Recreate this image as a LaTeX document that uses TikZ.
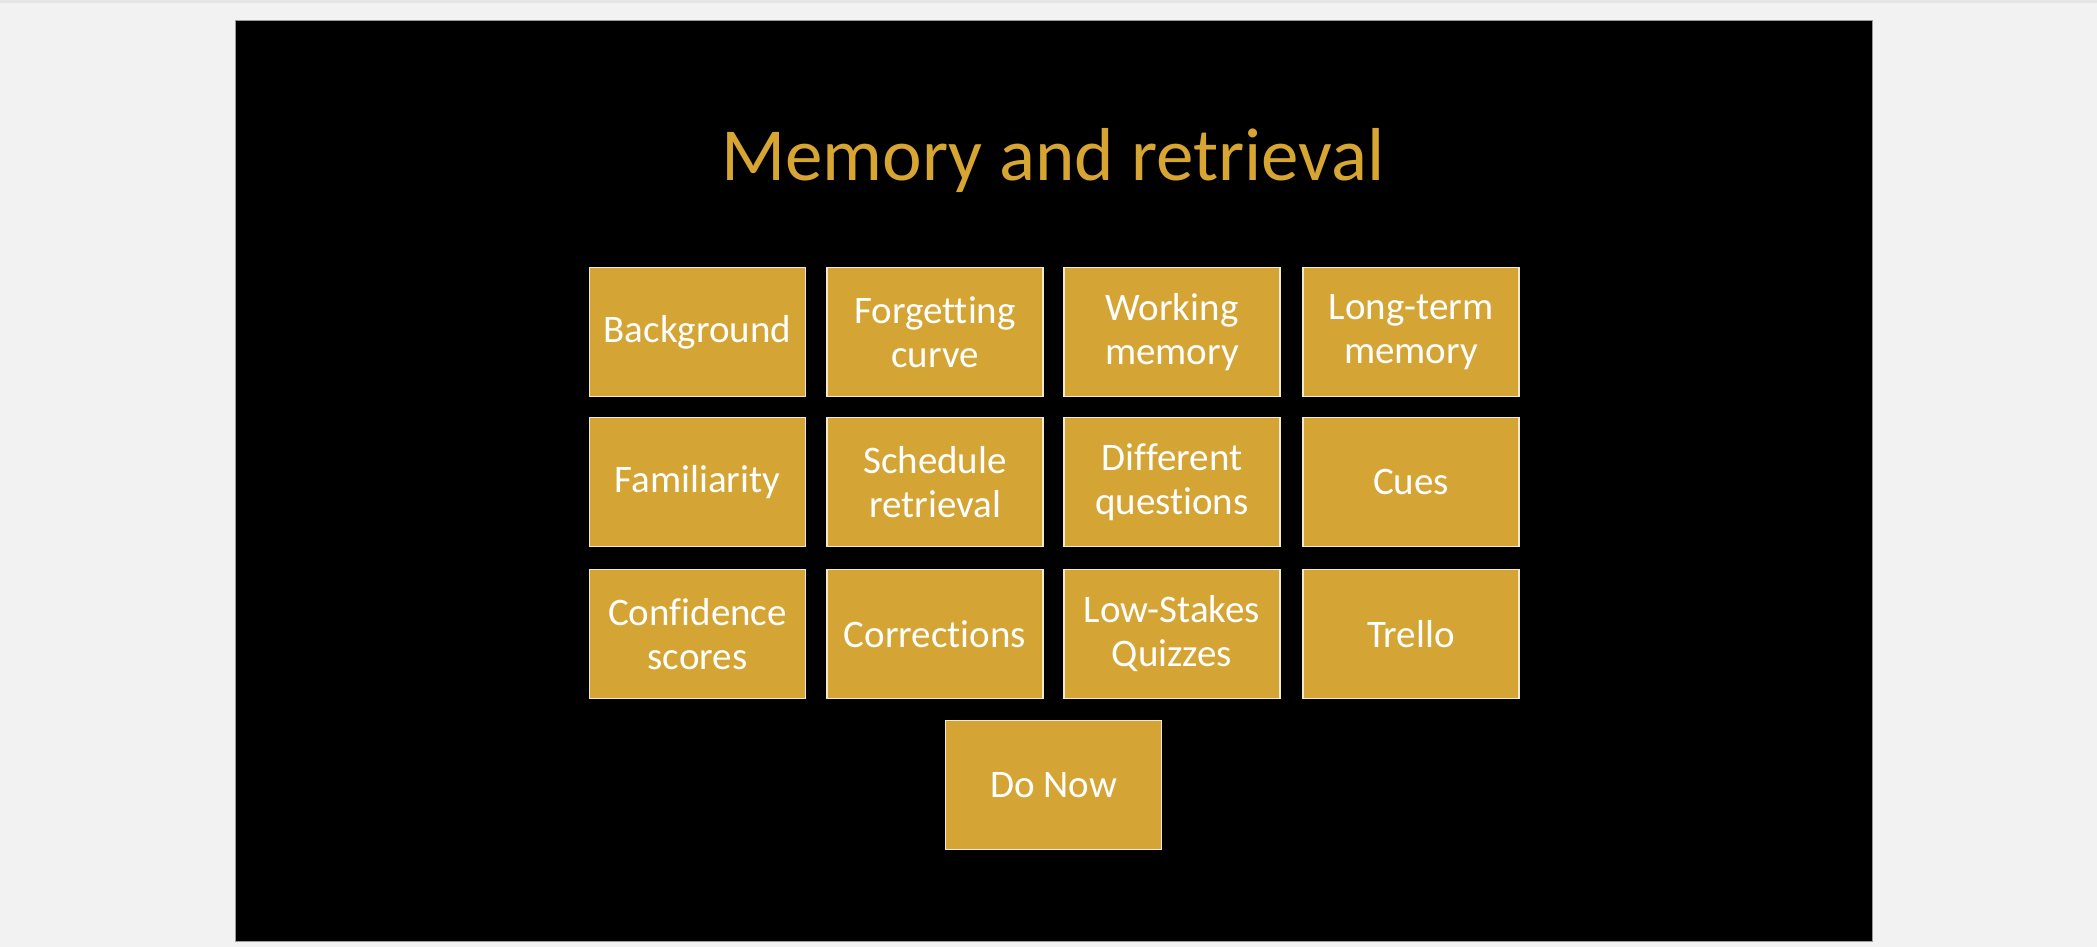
\documentclass[tikz,border=0pt]{standalone}
\usepackage{fontspec}
\setmainfont{Carlito}[Ligatures=NoCommon]
\definecolor{pagebg}{HTML}{F2F2F2}
\definecolor{gold}{HTML}{D4A535}
\definecolor{titlegold}{HTML}{D6A532}
\definecolor{boxedge}{HTML}{F2E8CC}
\definecolor{frame}{HTML}{9A9A9A}
\begin{document}
\begin{tikzpicture}[x=1pt,y=-1pt,
  tile/.style={rectangle, draw=boxedge, line width=1.5pt, fill=gold,
    minimum width=216pt, minimum height=129pt, inner sep=0pt,
    align=center, text=white, font=\fontsize{39}{44}\selectfont},
  titletext/.style={text=titlegold, font=\fontsize{75}{90}\selectfont, anchor=base, inner sep=0pt}]
\useasboundingbox (0,0) rectangle (2097,947);
\fill[pagebg] (0,0) rectangle (2097,947);
\fill[black!10] (0,0) rectangle (2097,3);
\filldraw[fill=black, draw=frame, line width=1pt] (235,20.5) rectangle (1872,941);
\node[titletext] (title) at (1053,181) {Memory and retrieval};
% row 1
\node[tile] (bg) at (697.5,332) {Background};
\node[tile] (fc) at (935,332) {Forgetting\\curve};
\node[tile] (wm) at (1172,332) {Working\\memory};
\node[tile] (lt) at (1411,332) {Long-term\\memory};
% row 2
\node[tile] (fa) at (697.5,482) {Familiarity};
\node[tile] (sr) at (935,482) {Schedule\\retrieval};
\node[tile] (dq) at (1172,482) {Different\\questions};
\node[tile] (cu) at (1411,482) {Cues};
% row 3
\node[tile] (cs) at (697.5,634) {Confidence\\scores};
\node[tile] (co) at (935,634) {Corrections};
\node[tile] (lq) at (1172,634) {Low-Stakes\\Quizzes};
\node[tile] (tr) at (1411,634) {Trello};
% row 4
\node[tile] (dn) at (1053.5,785) {Do Now};
\end{tikzpicture}
\end{document}
